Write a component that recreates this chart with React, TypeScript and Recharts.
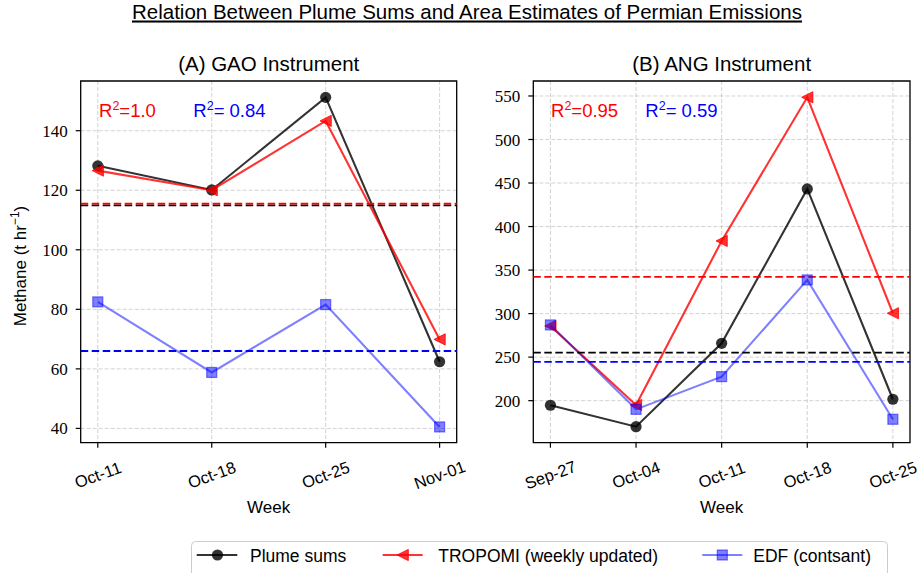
import React from 'react';
import {
  LineChart,
  Line,
  XAxis,
  YAxis,
  CartesianGrid,
  ReferenceLine,
  ReferenceArea,
} from 'recharts';

// ---- GAO instrument (panel A) ----
const gaoWeeks = ['Oct-11', 'Oct-18', 'Oct-25', 'Nov-01'];
const gaoPlume = [128.2, 120.1, 151.2, 62.4];
const gaoTropomi = [126.6, 120.0, 143.3, 69.9];
const gaoEdf = [82.5, 58.8, 81.6, 40.5];
const gaoPlumeMean = 114.9;
const gaoTropomiMean = 115.5;
const gaoEdfMean = 66.0;
const gaoYTicks = [40, 60, 80, 100, 120, 140];
const gaoR2Tropomi = '1.0';
const gaoR2Edf = '0.84';

// ---- ANG instrument (panel B) ----
const angWeeks = ['Sep-27', 'Oct-04', 'Oct-11', 'Oct-18', 'Oct-25'];
const angPlume = [194.7, 170.1, 265.9, 443.2, 201.6];
const angTropomi = [285.8, 195.0, 383.5, 548.5, 300.4];
const angEdf = [287.0, 190.0, 227.6, 338.7, 178.6];
const angPlumeMean = 255.1;
const angTropomiMean = 342.3;
const angEdfMean = 244.6;
const angYTicks = [200, 250, 300, 350, 400, 450, 500, 550];
const angR2Tropomi = '0.95';
const angR2Edf = '0.59';

const SANS = '"Liberation Sans", Arial, sans-serif';
const SERIF = '"Liberation Serif", "Times New Roman", serif';

const BLACK = '#000000';
const RED = '#ff0000';
const BLUE = '#0000ff';

function buildRows(plume: number[], tropomi: number[], edf: number[]) {
  return plume.map((p, i) => ({ x: i, plume: p, tropomi: tropomi[i], edf: edf[i] }));
}

const CircleDot = (props: any) => {
  const { cx, cy, index } = props;
  return <circle key={`c-${index}`} cx={cx} cy={cy} r={5.6} fill={BLACK} fillOpacity={0.8} />;
};

const TriangleLeftDot = (props: any) => {
  const { cx, cy, index } = props;
  const s = 5.6;
  return (
    <polygon
      key={`t-${index}`}
      points={`${cx - s},${cy} ${cx + s},${cy - s} ${cx + s},${cy + s}`}
      fill={RED}
      fillOpacity={0.8}
      stroke={RED}
      strokeOpacity={0.8}
      strokeWidth={1}
    />
  );
};

const SquareDot = (props: any) => {
  const { cx, cy, index } = props;
  const s = 5;
  return (
    <rect
      key={`s-${index}`}
      x={cx - s}
      y={cy - s}
      width={2 * s}
      height={2 * s}
      fill={BLUE}
      fillOpacity={0.5}
      stroke={BLUE}
      strokeOpacity={0.5}
      strokeWidth={1.2}
    />
  );
};

// rotated week labels, centred under each tick
const makeXTick = (labels: string[]) => (props: any) => {
  const { x, y, payload, index } = props;
  const cy = y + 17;
  return (
    <text
      key={`xt-${index}`}
      x={x}
      y={cy}
      transform={`rotate(-20 ${x} ${cy})`}
      textAnchor="middle"
      dominantBaseline="central"
      fontFamily={SANS}
      fontSize={16.5}
      fill="#000"
    >
      {labels[payload.value]}
    </text>
  );
};

type PanelProps = {
  left: number;
  width: number;
  marginLeft: number;
  marginRight: number;
  weeks: string[];
  plume: number[];
  tropomi: number[];
  edf: number[];
  plumeMean: number;
  tropomiMean: number;
  edfMean: number;
  yDomain: [number, number];
  yTicks: number[];
};

function Panel(p: PanelProps) {
  const rows = buildRows(p.plume, p.tropomi, p.edf);
  const n = p.weeks.length;
  const pad = (n - 1) * 0.05;
  const xDomain: [number, number] = [-pad, n - 1 + pad];
  const xTicks = p.weeks.map((_, i) => i);
  return (
    <div style={{ position: 'absolute', left: p.left, top: 0 }}>
      <LineChart
        width={p.width}
        height={573}
        data={rows}
        margin={{ top: 81, right: p.marginRight, bottom: 90.3, left: p.marginLeft }}
      >
        <CartesianGrid
          stroke="#b0b0b0"
          strokeOpacity={0.7}
          strokeDasharray="4 2"
          strokeWidth={0.8}
          syncWithTicks
        />
        <XAxis
          type="number"
          dataKey="x"
          domain={xDomain}
          ticks={xTicks}
          allowDataOverflow
          interval={0}
          height={40}
          tickSize={5}
          tickMargin={10}
          axisLine={false}
          tickLine={{ stroke: '#000', strokeWidth: 1.2 }}
          tick={makeXTick(p.weeks)}
        />
        <YAxis
          type="number"
          domain={p.yDomain}
          ticks={p.yTicks}
          allowDataOverflow
          interval={0}
          width={60}
          tickSize={5}
          tickMargin={8}
          axisLine={false}
          tickLine={{ stroke: '#000', strokeWidth: 1.2 }}
          tick={{ fontFamily: SERIF, fontSize: 17, fill: '#000' }}
        />
        <ReferenceArea
          x1={xDomain[0]}
          x2={xDomain[1]}
          y1={p.yDomain[0]}
          y2={p.yDomain[1]}
          fill="none"
          stroke="#000"
          strokeWidth={1.3}
          ifOverflow="visible"
        />
        <Line
          type="linear"
          dataKey="plume"
          stroke={BLACK}
          strokeOpacity={0.8}
          strokeWidth={2.1}
          dot={CircleDot}
          activeDot={false}
          isAnimationActive={false}
        />
        <Line
          type="linear"
          dataKey="tropomi"
          stroke={RED}
          strokeOpacity={0.8}
          strokeWidth={2.1}
          dot={TriangleLeftDot}
          activeDot={false}
          isAnimationActive={false}
        />
        <Line
          type="linear"
          dataKey="edf"
          stroke={BLUE}
          strokeOpacity={0.5}
          strokeWidth={2.1}
          dot={SquareDot}
          activeDot={false}
          isAnimationActive={false}
        />
        <ReferenceLine y={p.plumeMean} stroke={BLACK} strokeWidth={1.8} strokeDasharray="7.5 3.5" />
        <ReferenceLine y={p.tropomiMean} stroke={RED} strokeWidth={1.8} strokeDasharray="7.5 3.5" />
        <ReferenceLine y={p.edfMean} stroke={BLUE} strokeWidth={1.8} strokeDasharray="7.5 3.5" />
      </LineChart>
    </div>
  );
}

function R2Label({ x, y, value, color }: { x: number; y: number; value: string; color: string }) {
  return (
    <text x={x} y={y} fontFamily={SANS} fontSize={18.5} fill={color} style={{ whiteSpace: 'pre' }}>
      R
      <tspan dy={-7} fontSize={12.5}>2</tspan>
      <tspan dy={7}>={value}</tspan>
    </text>
  );
}

export default function App() {
  return (
    <div style={{ position: 'absolute', left: 0, top: 0, width: 918, height: 573, background: '#fff', overflow: 'hidden' }}>
      <Panel
        left={0}
        width={470}
        marginLeft={20.7}
        marginRight={13.3}
        weeks={gaoWeeks}
        plume={gaoPlume}
        tropomi={gaoTropomi}
        edf={gaoEdf}
        plumeMean={gaoPlumeMean}
        tropomiMean={gaoTropomiMean}
        edfMean={gaoEdfMean}
        yDomain={[35.2, 156.7]}
        yTicks={gaoYTicks}
      />
      <Panel
        left={460}
        width={458}
        marginLeft={13.3}
        marginRight={8}
        weeks={angWeeks}
        plume={angPlume}
        tropomi={angTropomi}
        edf={angEdf}
        plumeMean={angPlumeMean}
        tropomiMean={angTropomiMean}
        edfMean={angEdfMean}
        yDomain={[151.7, 567.2]}
        yTicks={angYTicks}
      />
      <svg
        width={918}
        height={573}
        style={{ position: 'absolute', left: 0, top: 0, pointerEvents: 'none' }}
      >
        {/* figure title */}
        <text
          x={467}
          y={18.5}
          textAnchor="middle"
          fontFamily={SANS}
          fontSize={20.5}
          fill="#000"
          textDecoration="underline"
        >
          Relation Between Plume Sums and Area Estimates of Permian Emissions
        </text>

        {/* panel titles */}
        <text x={268.7} y={70.5} textAnchor="middle" fontFamily={SANS} fontSize={20.5} fill="#000">
          (A) GAO Instrument
        </text>
        <text x={721.7} y={70.5} textAnchor="middle" fontFamily={SANS} fontSize={20.5} fill="#000">
          (B) ANG Instrument
        </text>

        {/* axis titles */}
        <text x={268.7} y={512.5} textAnchor="middle" fontFamily={SANS} fontSize={17} fill="#000">
          Week
        </text>
        <text x={721.7} y={512.5} textAnchor="middle" fontFamily={SANS} fontSize={17} fill="#000">
          Week
        </text>
        <text
          transform="translate(26 266) rotate(-90)"
          textAnchor="middle"
          fontFamily={SANS}
          fontSize={17}
          fill="#000"
        >
          Methane (t hr
          <tspan dy={-7} fontSize={12}>−1</tspan>
          <tspan dy={7}>)</tspan>
        </text>

        {/* goodness-of-fit notes */}
        <R2Label x={99} y={116.7} value={gaoR2Tropomi} color={RED} />
        <R2Label x={193.3} y={116.7} value={' ' + gaoR2Edf} color={BLUE} />
        <R2Label x={551} y={116.7} value={angR2Tropomi} color={RED} />
        <R2Label x={645.3} y={116.7} value={' ' + angR2Edf} color={BLUE} />

        {/* legend */}
        <rect x={191.5} y={541.5} width={696} height={44} rx={4} fill="#fff" fillOpacity={0.8} stroke="#cccccc" strokeWidth={1} />
        <line x1={196.7} y1={555} x2={237.3} y2={555} stroke={BLACK} strokeOpacity={0.8} strokeWidth={2.1} />
        <CircleDot cx={217.5} cy={555} index={0} />
        <text x={250} y={562.3} fontFamily={SANS} fontSize={17.5} fill="#000">Plume sums</text>

        <line x1={382.7} y1={555} x2={422.7} y2={555} stroke={RED} strokeOpacity={0.8} strokeWidth={2.1} />
        <TriangleLeftDot cx={402.7} cy={555} index={1} />
        <text x={438.3} y={562.3} fontFamily={SANS} fontSize={17.5} fill="#000">TROPOMI (weekly updated)</text>

        <line x1={702.3} y1={555} x2={742.3} y2={555} stroke={BLUE} strokeOpacity={0.5} strokeWidth={2.1} />
        <SquareDot cx={722.3} cy={555} index={2} />
        <text x={753.3} y={562.3} fontFamily={SANS} fontSize={17.5} fill="#000">EDF (contsant)</text>
      </svg>
    </div>
  );
}
